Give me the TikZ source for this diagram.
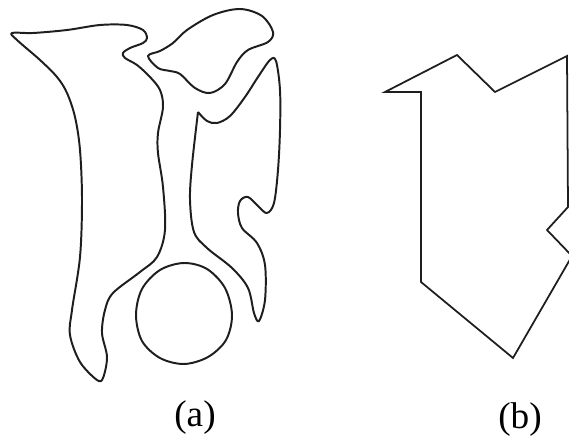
\documentclass[tikz,border=0pt]{standalone}
\usepackage{fontspec}
\setmainfont{Liberation Serif}
\usepackage{tikz}
\usetikzlibrary{positioning}
\definecolor{inkgray}{RGB}{30,30,30}
\tikzset{
  outline/.style ={draw=inkgray, line width=2.8pt, line join=round},
  poly/.style    ={draw=inkgray, line width=2.5pt, line join=miter},
  caption/.style ={font=\fontsize{53}{53}\selectfont, inner sep=0pt}
}
\begin{document}
\begin{tikzpicture}[x=0.05cm, y=-0.05cm]
\useasboundingbox (0,0) rectangle (569,441);
% (a)
\draw[outline] plot[smooth cycle, tension=0.55] coordinates {
  (12,33) (33,33) (67,30) (100,25) (127,25) (143,30) (147,38) (143,43)
  (130,48) (123,53) (125,58) (137,65) (150,77) (160,90) (163,107) (158,133)
  (158,153) (163,187) (165,230) (157,257) (140,272) (113,293) (105,310)
  (102,333) (107,357) (103,378) (97,380) (80,362) (70,335) (72,310)
  (80,257) (82,200) (80,150) (75,117) (67,93) (57,77) (40,60) (17,40)};
\draw[outline] plot[smooth cycle, tension=0.55] coordinates {
  (148,56) (160,51) (173,43) (187,30) (213,15) (240,9) (262,16) (273,32)
  (268,42) (248,50) (237,62) (225,84) (210,93) (195,88) (180,74) (170,71)
  (158,68)};
\draw[outline] plot[smooth, tension=0.55] coordinates {
  (198,112) (207,121) (217,123) (230,116) (245,97) (258,77) (270,60)
  (276,61) (280,90) (280,130) (278,170) (274,203) (267,213) (259,207)
  (248,197) (240,201) (238,213) (242,228) (257,243) (265,265) (265,300)
  (259,321) (254,313) (248,288) (232,268) (207,248) (194,232) (190,200)
  (192,165) (198,112)};
\draw[outline] plot[smooth cycle, tension=0.55] coordinates {
  (184,263) (207,269) (225,288) (232,315) (226,340) (208,357) (184,364)
  (160,358) (142,341) (136,315) (142,289) (160,270)};
\node[caption] (capa) at (195,418) {(a)};
% (b)
\begin{scope}
\clip (0,0) rectangle (569,441);
\draw[poly] (385,92) -- (457,55) -- (495,92) -- (567,56) -- (568,207)
  -- (547,230) -- (572,256) -- (513,358) -- (421,282) -- (421,92) -- cycle;
\end{scope}
\node[caption] (capb) at (520,420) {(b)};
\end{tikzpicture}
\end{document}
